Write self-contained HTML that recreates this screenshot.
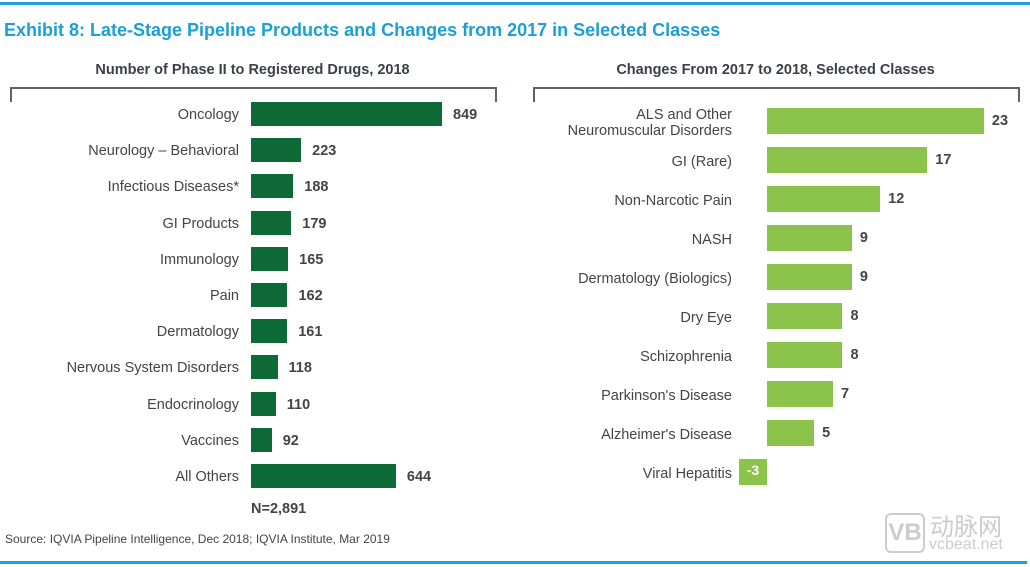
<!DOCTYPE html>
<html><head><meta charset="utf-8"><style>
body{margin:0;width:1030px;height:567px;background:#fff;position:relative;overflow:hidden;font-family:"Liberation Sans",sans-serif;color:#444}
.a{position:absolute}
.l{position:absolute;text-align:right;font-size:14.5px;color:#444;line-height:16px}
.v{position:absolute;font-size:14.5px;font-weight:bold;color:#444;line-height:16px}
.bd{position:absolute;background:#0d6a36;height:24px}
.bg{position:absolute;background:#8cc44b;height:26px}
</style></head><body>
<div class="a" style="left:0;top:2px;width:1030px;height:3px;background:#1aa3dd"></div>
<div class="a" style="left:0;top:561px;width:1027px;height:3px;background:#1aa3dd"></div>
<div class="a" style="left:4px;top:20px;font-size:18px;font-weight:bold;color:#1a9fd6">Exhibit 8: Late-Stage Pipeline Products and Changes from 2017 in Selected Classes</div>
<div class="a" style="left:10px;top:62px;width:485px;text-align:center;font-size:14.5px;font-weight:bold;color:#3a3f48">Number of Phase II to Registered Drugs, 2018</div>
<div class="a" style="left:533px;top:62px;width:485px;text-align:center;font-size:14.5px;font-weight:bold;color:#3a3f48">Changes From 2017 to 2018, Selected Classes</div>
<div class="a" style="left:10px;top:87px;width:483px;height:13px;border:2px solid #5a6470;border-bottom:none"></div>
<div class="a" style="left:533px;top:87px;width:483px;height:13px;border:2px solid #5a6470;border-bottom:none"></div>
<div id="L"></div><div id="R"></div>
<div class="v" style="left:251px;top:501px">N=2,891</div>
<div class="a" style="left:5px;top:532px;font-size:12px;color:#444">Source: IQVIA Pipeline Intelligence, Dec 2018; IQVIA Institute, Mar 2019</div>
<div class="a" style="left:885px;top:513px;width:36px;height:36px;border:2px solid #ccc;border-radius:6px;color:#ccc;font-weight:bold;font-size:24px;text-align:center;line-height:36px">VB</div>
<div class="a" style="left:930px;top:512px;font-size:24px;color:#ccc;font-family:'Noto Sans CJK SC',sans-serif;line-height:26px">动脉网</div>
<div class="a" style="left:929px;top:536px;font-size:16px;color:#ccc">vcbeat.net</div>
<script>
var L=[["Oncology",849],["Neurology – Behavioral",223],["Infectious Diseases*",188],["GI Products",179],["Immunology",165],["Pain",162],["Dermatology",161],["Nervous System Disorders",118],["Endocrinology",110],["Vaccines",92],["All Others",644]];
var h="";L.forEach(function(d,i){var c=114+i*36.2,w=d[1]*0.225;
h+='<div class="l" style="left:0;width:239px;top:'+(c-7)+'px">'+d[0]+'</div><div class="bd" style="left:251px;top:'+(c-12)+'px;width:'+w+'px"></div><div class="v" style="left:'+(251+w+11)+'px;top:'+(c-7)+'px">'+d[1]+'</div>';});
document.getElementById("L").innerHTML=h;
var R=[["ALS and Other<br>Neuromuscular Disorders",23],["GI (Rare)",17],["Non-Narcotic Pain",12],["NASH",9],["Dermatology (Biologics)",9],["Dry Eye",8],["Schizophrenia",8],["Parkinson's Disease",7],["Alzheimer's Disease",5],["Viral Hepatitis",-3]];
h="";R.forEach(function(d,i){var c=121+i*39,w=Math.abs(d[1])*9.43;
var ty=i==0?c-14:c-6;
h+='<div class="l" style="left:500px;width:232px;top:'+ty+'px">'+d[0]+'</div>';
if(d[1]>0)h+='<div class="bg" style="left:767px;top:'+(c-13)+'px;width:'+w+'px"></div><div class="v" style="left:'+(767+w+8)+'px;top:'+(c-8)+'px">'+d[1]+'</div>';
else h+='<div class="bg" style="left:739px;top:'+(c-13)+'px;width:28px;color:#fff;font-weight:bold;font-size:14px;text-align:center;line-height:22px">'+d[1]+'</div>';});
document.getElementById("R").innerHTML=h;
</script>
</body></html>
